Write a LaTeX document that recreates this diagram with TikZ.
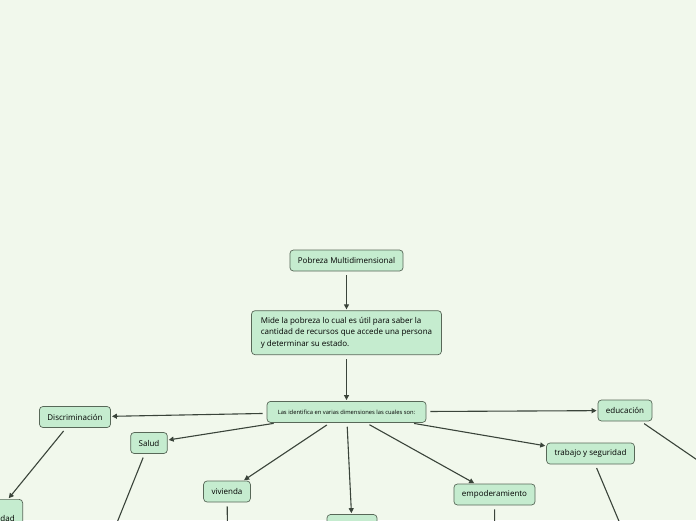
\documentclass[tikz,border=0pt]{standalone}
\usepackage{fontspec}
\setmainfont{Open Sans}
\usetikzlibrary{positioning,arrows.meta}

\definecolor{bgmint}{RGB}{241,248,236}
\definecolor{nodemint}{RGB}{197,236,207}
\definecolor{nodeedge}{RGB}{88,104,88}
\definecolor{linkgray}{RGB}{58,68,58}

\begin{document}
\begin{tikzpicture}[x=1pt, y=-1pt,
  topic/.style={rectangle, rounded corners=3.5pt, draw=nodeedge, fill=nodemint, line width=0.7pt, minimum height=21pt, inner xsep=8pt, align=left, font=\fontsize{8}{11.5}\selectfont},
  arrow/.style={-{Triangle[length=5pt, width=5pt]}, draw=linkgray, line width=1.1pt, shorten <=4pt, shorten >=1pt},
]
\useasboundingbox (0,0) rectangle (696,520);
\fill[bgmint] (0,0) rectangle (696,520);
\clip (0,0) rectangle (696,520);

% === Central chain ===
\node[topic] (pob) at (346.5, 260.5) {Pobreza Multidimensional};
\node[topic, minimum width=190pt, minimum height=44pt, below=39pt of pob] (mide) {Mide la pobreza lo cual es útil para saber la\\cantidad de recursos que accede una persona\\y determinar su estado.};
\node[topic, minimum width=159pt, font=\fontsize{5.8}{7}\selectfont, below=46pt of mide] (dims) {Las identifica en varias dimensiones las cuales son:};

\draw[arrow] (pob) -- (mide);
\draw[arrow] (mide) -- (dims);

% === Dimensions ===
\node[topic] (disc) at (75, 417) {Discriminación};
\node[topic] (salud) at (149, 443) {Salud};
\node[topic] (viv) at (227, 491.5) {vivienda};
\node[topic, minimum width=50pt] (ingr) at (352, 525) {};
\node[topic] (empo) at (494.5, 494.5) {empoderamiento};
\node[topic] (trab) at (590.5, 453.5) {trabajo y seguridad};
\node[topic] (educ) at (625, 410.5) {educación};

\draw[arrow] (dims) -- (disc);
\draw[arrow] (dims) -- (salud);
\draw[arrow] (dims) -- (viv);
\draw[arrow] (dims) -- (ingr);
\draw[arrow] (dims) -- (empo);
\draw[arrow] (dims) -- (trab);
\draw[arrow] (dims) -- (educ);

% === Next level (runs off the page) ===
\node[topic, minimum height=40pt, anchor=north east] (desig) at (23, 499) {Desigualdad};
\draw[arrow] (disc) -- (desig);

\coordinate (salud-out) at (100, 565);
\coordinate (viv-out) at (228, 570);
\coordinate (empo-out) at (495, 600);
\coordinate (trab-out) at (637, 564);
\coordinate (educ-out) at (725, 479);
\draw[arrow] (salud) -- (salud-out);
\draw[arrow] (viv) -- (viv-out);
\draw[arrow] (empo) -- (empo-out);
\draw[arrow] (trab) -- (trab-out);
\draw[arrow] (educ) -- (educ-out);

\end{tikzpicture}
\end{document}
